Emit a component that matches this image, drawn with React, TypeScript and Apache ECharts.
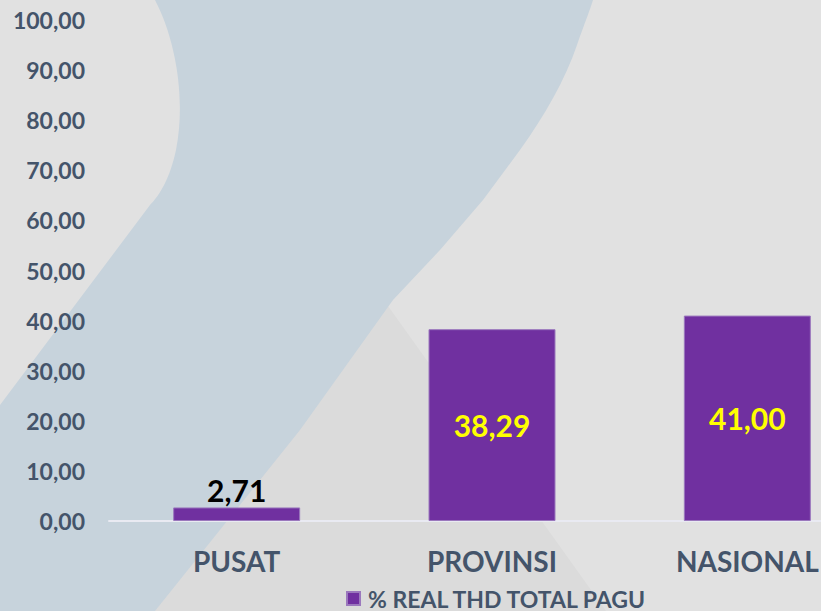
import React, { useEffect, useRef } from "react";
import * as echarts from "echarts";

const categories = ["PUSAT", "PROVINSI", "NASIONAL"];
const values = [2.71, 38.29, 41.0];
const seriesName = "% REAL THD TOTAL PAGU";
const yTicks = { min: 0, max: 100, interval: 10 };

const fmt = (v: number) => v.toFixed(2).replace(".", ",");

const BLUE_D =
  "M155,0 C176,40 186,100 176,150 C170,178 160,195 150,205 L0,405 L0,611 L155,611 L300,430 L393,300 L440,250 L483,200 L520,150 C545,115 565,80 577,45 C585,22 590,10 593,0 Z";
const TRI_D = "M388,306 L606,611 L150,611 Z";

let registered = false;
function registerShapes() {
  if (registered) return;
  echarts.graphic.registerShape("blueShape", echarts.graphic.extendPath(BLUE_D, {}) as any);
  echarts.graphic.registerShape("triShape", echarts.graphic.extendPath(TRI_D, {}) as any);
  registered = true;
}

export default function App() {
  const ref = useRef<HTMLDivElement>(null);
  useEffect(() => {
    if (!ref.current) return;
    registerShapes();
    const chart = echarts.init(ref.current, undefined, { renderer: "svg" });
    const font = "Lato, 'Open Sans', sans-serif";
    const data = values.map((v, i) => ({
      value: v,
      label:
        i === 0
          ? { show: true, position: "top", color: "#000000", distance: 2 }
          : { show: true, position: "inside", color: "#ffff00" },
    }));
    chart.setOption({
      animation: false,
      backgroundColor: "#e1e1e1",
      graphic: [
        { type: "triShape", x: 0, y: 0, z: 0, silent: true, style: { fill: "#dbdbdb" } },
        { type: "blueShape", x: 0, y: 0, z: 0, silent: true, style: { fill: "#c7d3dc" } },
      ],
      grid: { left: 109, top: 20, width: 766, height: 501, containLabel: false },
      legend: {
        data: [seriesName],
        left: 346,
        top: 587,
        padding: 0,
        icon: "rect",
        itemWidth: 13,
        itemHeight: 13,
        itemGap: 8,
        textStyle: { color: "#44546a", fontWeight: "bold", fontSize: 23, fontFamily: font, padding: [0, 0, 0, 3] },
      },
      xAxis: {
        type: "category",
        data: categories,
        axisLine: { show: true, lineStyle: { color: "#e9eaf2", width: 2 } },
        axisTick: { show: false },
        axisLabel: { color: "#44546a", fontWeight: "bold", fontSize: 28, fontFamily: font, margin: 26 },
      },
      yAxis: {
        type: "value",
        min: yTicks.min,
        max: yTicks.max,
        interval: yTicks.interval,
        axisLine: { show: false },
        axisTick: { show: false },
        splitLine: { show: false },
        axisLabel: {
          color: "#44546a",
          fontWeight: "bold",
          fontSize: 23,
          fontFamily: font,
          margin: 24,
          formatter: (v: number) => fmt(v),
        },
      },
      series: [
        {
          name: seriesName,
          type: "bar",
          data,
          barWidth: 127,
          itemStyle: { color: "#7030a0", borderColor: "#9b78bd", borderWidth: 1 },
          label: {
            fontWeight: "bold",
            fontSize: 30,
            fontFamily: font,
            formatter: (p: any) => fmt(p.value),
          },
        },
      ],
    });
    return () => chart.dispose();
  }, []);
  return (
    <div
      style={{ position: "fixed", left: 0, top: 0, width: 821, height: 611, overflow: "hidden" }}
    >
      <div ref={ref} style={{ width: 880, height: 611 }} />
    </div>
  );
}
